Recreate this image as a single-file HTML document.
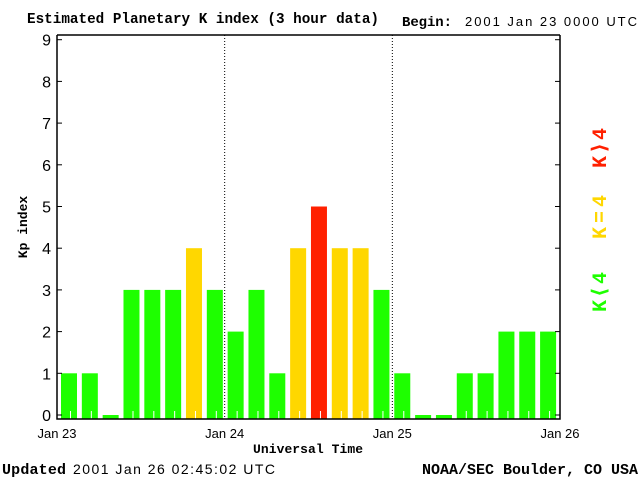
<!DOCTYPE html>
<html><head><meta charset="utf-8"><style>body{margin:0;background:#fff}svg{display:block}</style></head>
<body>
<svg id="c" width="640" height="480" xmlns="http://www.w3.org/2000/svg">
<text x="27" y="23" font-family="Liberation Mono,monospace" font-weight="bold" font-size="14.3" textLength="352">Estimated Planetary K index (3 hour data)</text>
<text x="402" y="26" font-family="Liberation Mono,monospace" font-weight="bold" font-size="14" textLength="50">Begin:</text>
<text x="465" y="26" font-family="Liberation Sans,sans-serif" font-size="13" textLength="172">2001 Jan 23 0000 UTC</text>
<text x="2" y="474" font-family="Liberation Mono,monospace" font-weight="bold" font-size="15" textLength="64">Updated</text>
<text x="73" y="474" font-family="Liberation Sans,sans-serif" font-size="14" textLength="202">2001 Jan 26 02:45:02 UTC</text>
<text x="422" y="474" font-family="Liberation Mono,monospace" font-weight="bold" font-size="15" textLength="216">NOAA/SEC Boulder, CO USA</text>
<text x="253" y="453" font-family="Liberation Mono,monospace" font-weight="bold" font-size="13" textLength="110">Universal Time</text>
<text transform="translate(27,227) rotate(-90)" text-anchor="middle" font-family="Liberation Mono,monospace" font-weight="bold" font-size="13">Kp index</text>
<text transform="translate(606,148) rotate(-90)" text-anchor="middle" fill="#ff2000" font-family="Liberation Mono,monospace" font-weight="bold" font-size="20" textLength="40">K⟩4</text>
<text transform="translate(606,217) rotate(-90)" text-anchor="middle" fill="#ffd700" font-family="Liberation Mono,monospace" font-weight="bold" font-size="20" textLength="44">K=4</text>
<text transform="translate(606,292) rotate(-90)" text-anchor="middle" fill="#1eff00" font-family="Liberation Mono,monospace" font-weight="bold" font-size="20" textLength="40">K⟨4</text>
<g id="bars"></g>
<g id="axes"></g>
</svg>
<script>
const kpValues=[1,1,0,3,3,3,4,3, 2,3,1,4,5,4,4,3, 1,0,0,1,1,2,2,2];
const yTicks=[0,1,2,3,4,5,6,7,8,9];
const dayLabels=["Jan 23","Jan 24","Jan 25","Jan 26"];
const NS="http://www.w3.org/2000/svg";
const L=57,R=560,T=35,B=419;
function xS(i){return 61+i*20.83;}
function yS(v){return 415-v*41.7;}
function mk(tag,at,parent){const e=document.createElementNS(NS,tag);for(const k in at)e.setAttribute(k,at[k]);parent.appendChild(e);return e;}
const bars=document.getElementById('bars'),axes=document.getElementById('axes');
kpValues.forEach((v,i)=>{
  const col=v<4?'#1eff00':(v==4?'#ffd700':'#ff2000');
  const r=mk('rect',{x:xS(i),y:yS(v),width:16,height:B-yS(v),fill:col},bars);
  
  
  if(v>0){const t=mk('line',{x1:xS(i)+9.5,x2:xS(i)+9.5,y1:411,y2:B,stroke:'#fff','stroke-width':1},bars);
  
  }
});
const frame=mk('path',{d:`M${L},${T}H${R}M${L},${T}V${B}H${R}V${T}`,stroke:'#000','stroke-width':1.5,fill:'none'},axes);


yTicks.forEach(t=>{
  const y=yS(t);
  mk('line',{x1:L,x2:L+5,y1:y,y2:y,stroke:'#000'},axes);
  mk('line',{x1:R-5,x2:R,y1:y,y2:y,stroke:'#000'},axes);
  const tx=mk('text',{x:L-6,y:y+6,'text-anchor':'end','font-family':'Liberation Sans,sans-serif','font-size':16},axes);
  tx.textContent=t;
  
  
});
dayLabels.forEach((d,i)=>{
  const x=L+i*(R-L)/3;
  if(i>0&&i<3){const dl=mk('line',{x1:x,x2:x,y1:T,y2:B,stroke:'#000','stroke-dasharray':'1,2'},axes);
  
  }
  const tx=mk('text',{x:x,y:438,'text-anchor':'middle','font-family':'Liberation Sans,sans-serif','font-size':13},axes);
  tx.textContent=d;
  
  
});
</script>
</body></html>
